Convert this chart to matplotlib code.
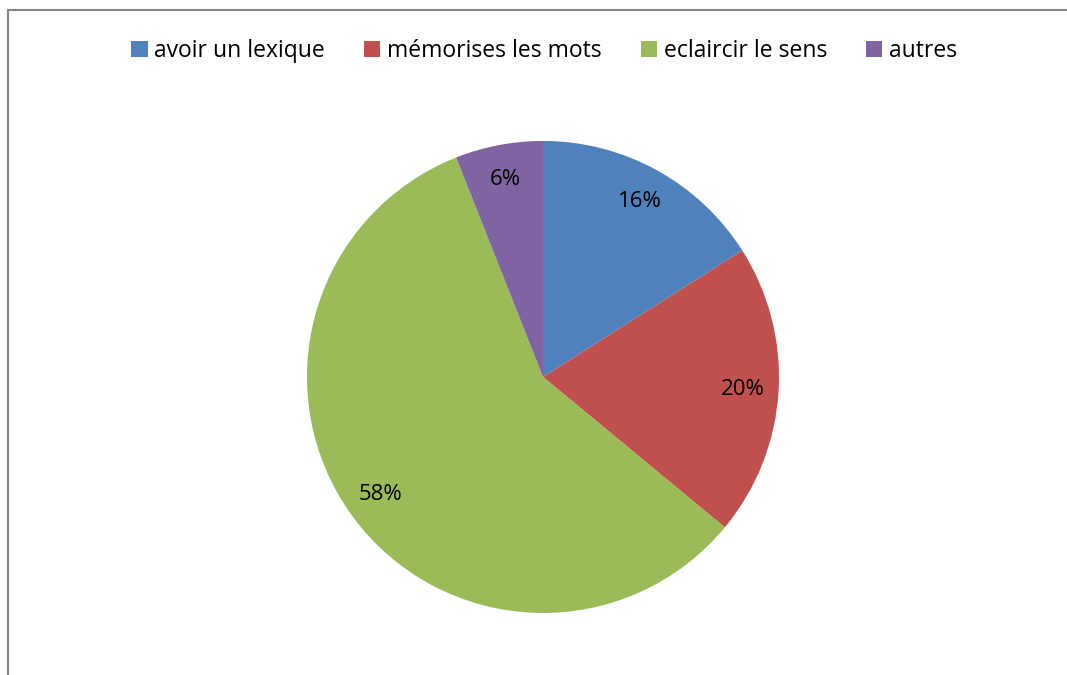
import matplotlib
matplotlib.use("Agg")
import matplotlib.pyplot as plt
from matplotlib.lines import Line2D
from matplotlib.patches import Patch

labels = ["avoir un lexique", "mémorises les mots", "eclaircir le sens", "autres"]
values = [16, 20, 58, 6]
colors = ["#4F81BD", "#C0504D", "#9BBB59", "#8064A2"]

plt.rcParams["font.family"] = ["Open Sans", "DejaVu Sans"]

fig = plt.figure(figsize=(10.67, 6.75), dpi=100)
ax = fig.add_axes([0.2877, 0.0919, 0.4424, 0.6993])
ax.pie(values, colors=colors, startangle=90, counterclock=False,
       autopct=lambda p: f"{p:.0f}%", pctdistance=0.85,
       wedgeprops=dict(linewidth=0),
       textprops=dict(fontsize=16, color="black"))
ax.set_aspect("auto")
ax.set_xlim(-1, 1)
ax.set_ylim(-1, 1)

handles = [Patch(facecolor=c, edgecolor="none") for c in colors]
fig.legend(handles, labels, ncol=4, loc="center", bbox_to_anchor=(0.51, 0.925),
           frameon=False, fontsize=16.5, handlelength=0.7, handleheight=0.7,
           handletextpad=0.3, columnspacing=1.7)

# chart border: only top and left edges visible in the crop
fig.add_artist(Line2D([8 / 1067, 8 / 1067], [0, 1 - 10 / 675], color="#868686", lw=1.5,
                      transform=fig.transFigure))
fig.add_artist(Line2D([8 / 1067, 1], [1 - 10 / 675, 1 - 10 / 675], color="#868686", lw=1.5,
                      transform=fig.transFigure))

fig.savefig("out.png", dpi=100)
